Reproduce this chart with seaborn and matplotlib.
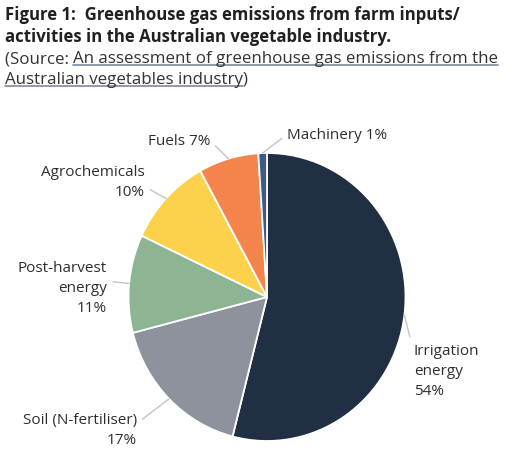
import matplotlib
matplotlib.use("Agg")
import matplotlib.pyplot as plt
import seaborn as sns
import numpy as np
from matplotlib.lines import Line2D

sns.set_theme(style="white")
plt.rcParams['font.family'] = ['Open Sans', 'DejaVu Sans']

categories = ["Irrigation\nenergy", "Soil (N-fertiliser)", "Post-harvest\nenergy",
              "Agrochemicals", "Fuels", "Machinery"]
values = [54, 17, 11, 10, 7, 1]
label_texts = ["Irrigation\nenergy\n54%", "Soil (N-fertiliser)\n17%", "Post-harvest\nenergy\n11%",
               "Agrochemicals\n10%", "Fuels 7%", "Machinery 1%"]
colors = ["#212f45", "#8d929c", "#8db493", "#fcd14b", "#f3844b", "#3d5a82"]

# text placement (data units, pie radius = 1) and alignment
text_pos = [(1.06, -0.51), (-0.94, -0.92), (-1.155, 0.063), (-0.885, 0.80), (-0.41, 1.085), (0.145, 1.13)]
text_ha = ["left", "right", "right", "right", "right", "left"]
rel_pos = [(0.0, 0.82), (1.02, 0.72), (1.02, 0.62), (1.02, 0.33), (1.0, 0.5), (0.0, 0.5)]

W, H = 514, 456
fig = plt.figure(figsize=(W / 100, H / 100), dpi=100)
fig.patch.set_facecolor("white")

# pie axes: slightly taller than wide, as in the reference
cx, cy, rx, ry = 267, 298, 138.5, 144
ax = fig.add_axes([(cx - rx) / W, (H - cy - ry) / H, 2 * rx / W, 2 * ry / H])
wedges, _ = ax.pie(values, colors=colors, startangle=90, counterclock=False,
                   wedgeprops=dict(edgecolor="white", linewidth=1.3))
ax.set_aspect("auto")
ax.set_xlim(-1, 1)
ax.set_ylim(-1, 1)
ax.axis("off")

for w, txt, pos, ha, rp in zip(wedges, label_texts, text_pos, text_ha, rel_pos):
    ang = np.deg2rad((w.theta1 + w.theta2) / 2)
    anchor = (np.cos(ang), np.sin(ang))
    ax.annotate(txt, xy=anchor, xytext=pos, textcoords="data",
                ha=ha, va="center", multialignment=ha, fontsize=11, color="#2e2e2e",
                linespacing=1.45, annotation_clip=False,
                arrowprops=dict(arrowstyle="-", color="#c4c4c4", lw=1.0,
                                shrinkA=2, shrinkB=0, relpos=rp))

title_color = "#231f20"
fig.text(5 / W, 1 - 15 / H, "Figure 1:  Greenhouse gas emissions from farm inputs/",
         fontsize=12.1, fontweight="bold", color=title_color, va="center", ha="left")
fig.text(5 / W, 1 - 37 / H, "activities in the Australian vegetable industry.",
         fontsize=12.1, fontweight="bold", color=title_color, va="center", ha="left")

src_color = "#333333"
fs_src = 12.2
t1 = fig.text(5 / W, 1 - 59 / H, "(Source: ", fontsize=fs_src, color=src_color, va="center", ha="left")
fig.canvas.draw()
r = fig.canvas.get_renderer()
bb = t1.get_window_extent(r)
link1 = fig.text(bb.x1 / W, 1 - 59 / H, "An assessment of greenhouse gas emissions from the",
                 fontsize=fs_src, color=src_color, va="center", ha="left")
link2 = fig.text(5 / W, 1 - 80 / H, "Australian vegetables industry",
                 fontsize=fs_src, color=src_color, va="center", ha="left")
fig.canvas.draw()
bb2 = link2.get_window_extent(r)
fig.text(bb2.x1 / W, 1 - 80 / H, ")", fontsize=fs_src, color=src_color, va="center", ha="left")
for lt in (link1, link2):
    b = lt.get_window_extent(r)
    yline = b.y0 + 1
    fig.add_artist(Line2D([b.x0 / W, b.x1 / W], [yline / H, yline / H],
                          transform=fig.transFigure, color="#7a8aa0", lw=1.2))

fig.savefig("out.png", dpi=100, facecolor="white")
